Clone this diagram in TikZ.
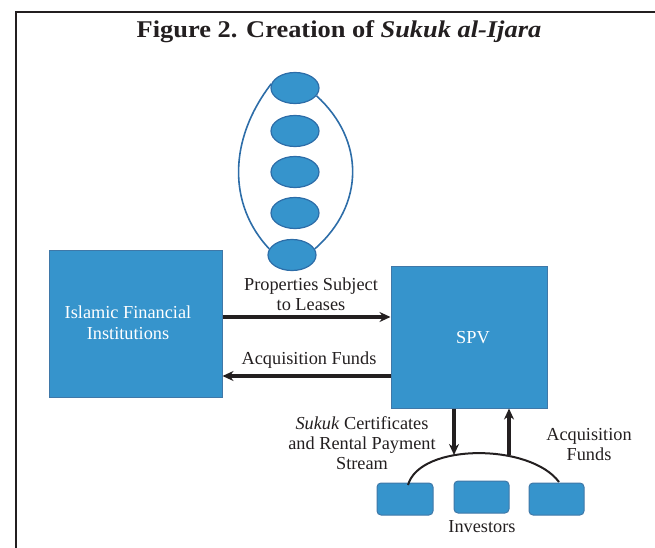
\documentclass[tikz,border=0pt]{standalone}
\usepackage{fontspec}
\setmainfont{Liberation Serif}
\usetikzlibrary{arrows.meta,calc,shapes.geometric}
\definecolor{inkdark}{HTML}{231F20}
\definecolor{boxblue}{HTML}{3694CC}
\definecolor{boxedge}{HTML}{3F78A8}
\definecolor{ovaledge}{HTML}{2D6DA8}
\tikzset{
  frameline/.style={draw=inkdark,line width=2.4pt},
  bigbox/.style={draw=boxedge,fill=boxblue,line width=1pt},
  oval/.style={draw=ovaledge,fill=boxblue,line width=1.2pt},
  invbox/.style={draw=boxedge,fill=boxblue,line width=1pt,rounded corners=4pt},
  flow/.style={draw=inkdark,line width=3.2pt,-{Stealth[length=11pt,width=10pt]}},
  bow/.style={draw=ovaledge,line width=1.6pt},
  arcline/.style={draw=inkdark,line width=2pt},
  lbl/.style={text=inkdark,font=\fontsize{18.3}{20}\selectfont,align=center,inner sep=0pt},
  boxtxt/.style={text=white,font=\fontsize{18.3}{21}\selectfont,align=center,inner sep=0pt},
}
\begin{document}
\begin{tikzpicture}[x=1pt,y=-1pt]
  \useasboundingbox (0,0) rectangle (655,548);
  % frame
  \coordinate (fbl) at (16,549);
  \coordinate (ftl) at (16,12);
  \coordinate (ftr) at (656,12);
  \draw[frameline] (fbl) -- (ftl) -- (ftr);
  % title
  \node[anchor=base,inner sep=0pt,text=inkdark] (title) at (339,38)
    {\scalebox{1.1}[1]{\fontsize{24}{26}\selectfont\bfseries Figure 2. Creation of \textit{Sukuk al-Ijara}}};
  % leased properties
  \node[oval,ellipse,minimum width=48pt,minimum height=31pt,inner sep=0pt] (p1) at (295,88) {};
  \node[oval,ellipse,minimum width=48pt,minimum height=31pt,inner sep=0pt] (p2) at (295,131) {};
  \node[oval,ellipse,minimum width=48pt,minimum height=31pt,inner sep=0pt] (p3) at (295,172) {};
  \node[oval,ellipse,minimum width=48pt,minimum height=31pt,inner sep=0pt] (p4) at (295,213) {};
  \node[oval,ellipse,minimum width=48pt,minimum height=31pt,inner sep=0pt] (p5) at (292,255) {};
  \draw[bow] (p1.170) .. controls (228,140) and (228,205) .. (p5.165);
  \draw[bow] (p1.-20) .. controls (365,140) and (365,205) .. (p5.15);
  % main parties
  \node[bigbox,minimum width=173pt,minimum height=147pt,inner sep=0pt] (ifi) at (135.5,323.5) {};
  \node[boxtxt,anchor=base] (ifitxt) at (128,339) {Islamic Financial\\Institutions};
  \node[bigbox,minimum width=156pt,minimum height=142pt,inner sep=0pt] (spv) at (469,337) {};
  \node[boxtxt,anchor=base] (spvtxt) at (473,343) {SPV};
  % flows between the parties
  \draw[flow] (ifi.east |- 0,317) -- (spv.west |- 0,317);
  \draw[flow] (spv.west |- 0,376) -- (ifi.east |- 0,376);
  \node[lbl,anchor=base] (lprop) at (311,310) {Properties Subject\\to Leases};
  \node[lbl,anchor=base] (lacq) at (309,364) {Acquisition Funds};
  % investors
  \node[invbox,minimum width=56pt,minimum height=32pt,inner sep=0pt] (i1) at (405,499) {};
  \node[invbox,minimum width=55pt,minimum height=32pt,inner sep=0pt] (i2) at (481.5,497) {};
  \node[invbox,minimum width=55pt,minimum height=32pt,inner sep=0pt] (i3) at (556.5,499) {};
  \node[lbl,anchor=base] (linv) at (482,532) {Investors};
  \coordinate (arcl) at (408,485);
  \coordinate (arcr) at (559,482);
  \draw[arcline] (arcl) .. controls (420,443) and (530,443) .. (arcr);
  \coordinate (dn) at (454,455);
  \coordinate (up) at (509,455);
  \draw[flow] (spv.south -| dn) -- (dn);
  \draw[flow] (up) -- (spv.south -| up);
  \node[lbl,anchor=base] (lsuk) at (362,469) {\textit{Sukuk} Certificates\\and Rental Payment\\Stream};
  \node[lbl,anchor=base] (lacq2) at (589,460) {Acquisition\\Funds};
\end{tikzpicture}
\end{document}
